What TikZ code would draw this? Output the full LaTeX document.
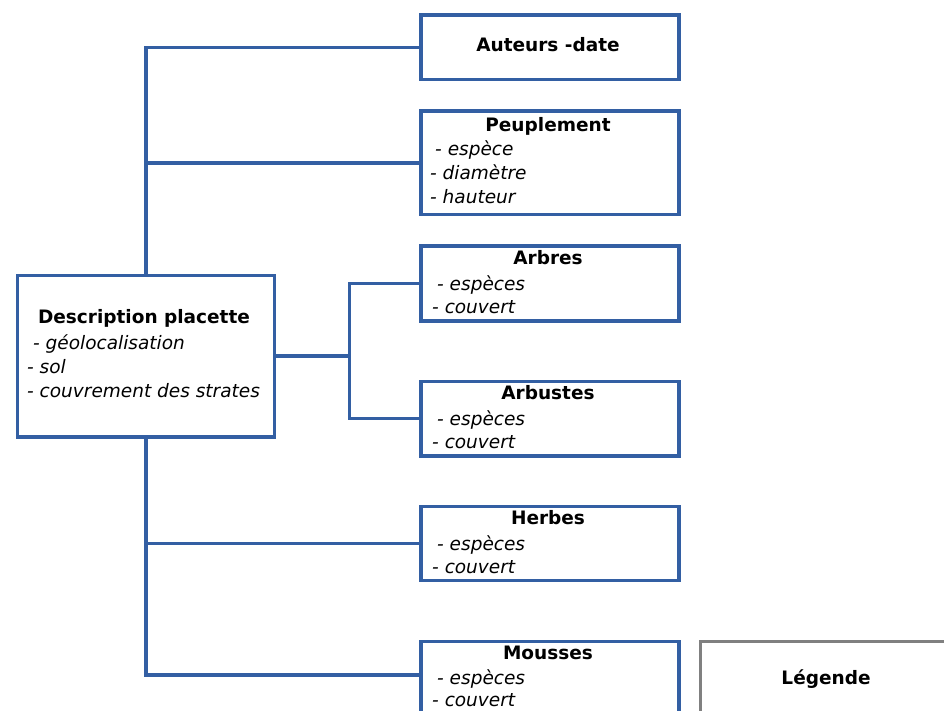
\documentclass[tikz,border=0pt]{standalone}
\usepackage{fontspec}
\setmainfont{DejaVu Sans}
\usetikzlibrary{calc}
\definecolor{boxblue}{HTML}{335FA3}
\definecolor{legray}{HTML}{808080}
\tikzset{
  box/.style={draw=boxblue, line width=3.5pt, fill=white, inner sep=0pt, anchor=north west},
  legbox/.style={draw=legray, line width=3.5pt, fill=white, inner sep=0pt, anchor=north west},
  conn/.style={draw=boxblue, line width=3.5pt},
  ttl/.style={inner sep=0pt, anchor=base, font=\fontsize{18.5}{22}\selectfont\bfseries},
  itm/.style={inner sep=0pt, anchor=base west, font=\fontsize{18.5}{22}\selectfont\itshape},
}
\begin{document}
\begin{tikzpicture}[x=1pt, y=-1pt]
\useasboundingbox (0,0) rectangle (944,711);
\clip (0,0) rectangle (944,711);
% boxes
\node[box, minimum width=257pt, minimum height=161.5pt] (desc) at (15.5,273.5) {};
\node[box, minimum width=258pt, minimum height=64.5pt] (auteurs) at (419,13.5) {};
\node[box, minimum width=258pt, minimum height=103.5pt] (peup) at (419,109.5) {};
\node[box, minimum width=258pt, minimum height=74.5pt] (arbres) at (419,244.5) {};
\node[box, minimum width=258pt, minimum height=74.5pt] (arbustes) at (419,379.5) {};
\node[box, minimum width=258pt, minimum height=74pt] (herbes) at (419,504.5) {};
\node[box, minimum width=258pt, minimum height=110pt] (mousses) at (419,639.5) {};
\node[legbox, minimum width=270pt, minimum height=110pt] (legende) at (698.5,639.5) {};
% connectors
\coordinate (mw) at ($(mousses.north west)+(0,35.5)$);
\draw[conn] (desc.north) |- (auteurs.west);
\draw[conn] (desc.north) |- (peup.west);
\draw[conn] (desc.east) -- ++(73.5,0) coordinate (j);
\draw[conn] (j) |- (arbres.west);
\draw[conn] (j) |- (arbustes.west);
\draw[conn] (desc.south) |- (herbes.west);
\draw[conn] (desc.south) |- (mw);
% texts
\node[ttl] (descT) at (144,323) {Description placette};
\node[itm] (descA) at (33,349) {- géolocalisation};
\node[itm] (descB) at (27,373) {- sol};
\node[itm] (descC) at (27,397) {- couvrement des strates};
\node[ttl] (autT) at (548,52) {Auteurs -date};
\node[ttl] (peupT) at (548,132) {Peuplement};
\node[itm] (peupA) at (435,156) {- espèce};
\node[itm] (peupB) at (430,180) {- diamètre};
\node[itm] (peupC) at (430,204) {- hauteur};
\node[ttl] (arbT) at (548,264) {Arbres};
\node[itm] (arbA) at (437,290) {- espèces};
\node[itm] (arbB) at (432,313) {- couvert};
\node[ttl] (arbuT) at (548,399) {Arbustes};
\node[itm] (arbuA) at (437,425) {- espèces};
\node[itm] (arbuB) at (432,448) {- couvert};
\node[ttl] (herT) at (548,524) {Herbes};
\node[itm] (herA) at (437,550) {- espèces};
\node[itm] (herB) at (432,573) {- couvert};
\node[ttl] (mouT) at (548,659) {Mousses};
\node[itm] (mouA) at (437,684) {- espèces};
\node[itm] (mouB) at (432,706) {- couvert};
\node[ttl] (legT) at (826,684) {Légende};
\end{tikzpicture}
\end{document}
